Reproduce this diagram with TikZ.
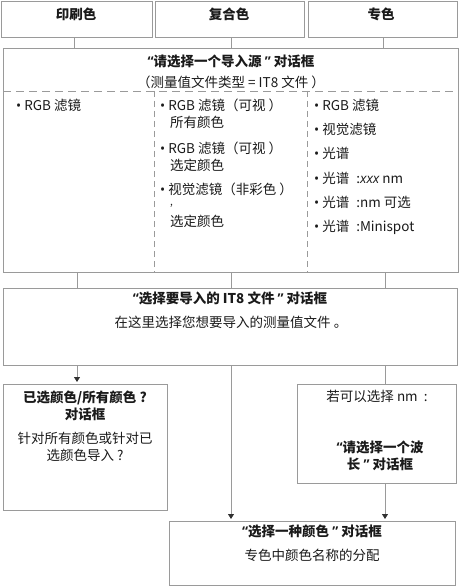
\documentclass[tikz,border=0pt]{standalone}
\usepackage{fontspec}
\setmainfont{Noto Sans CJK SC}
\newfontfamily\latinfont{Open Sans}
\newcommand{\bul}{{\latinfont •}\hspace{3pt}}
\newcommand{\oq}{{\latinfont “}}
\newcommand{\cq}{{\latinfont ”}}
\usetikzlibrary{arrows.meta}
\definecolor{linegray}{HTML}{9A9A9A}
\definecolor{txt}{HTML}{1A1A1A}
\begin{document}
\begin{tikzpicture}[x=1pt,y=-1pt,
  box/.style={draw=linegray, line width=0.8pt, anchor=north west, inner sep=0pt},
  conn/.style={draw=linegray, line width=0.8pt},
  arr/.style={conn, -{Triangle[length=5pt,width=6pt,color=txt!90]}, shorten >=2pt},
  dsh/.style={draw=linegray, line width=0.8pt, dash pattern=on 8pt off 5pt},
  vdsh/.style={draw=linegray, line width=0.6pt, dash pattern=on 6pt off 4pt},
  t/.style={text=txt, font=\fontsize{13.5}{17}\selectfont, inner sep=0pt},
  tb/.style={t, font=\fontsize{13.5}{17}\selectfont\bfseries},
  li/.style={t, anchor=west, align=left}]
\useasboundingbox (0,0) rectangle (461,588);

% top boxes
\node[box, minimum width=151, minimum height=36] (tp1) at (1,1) {};
\node[box, minimum width=149, minimum height=36] (tp2) at (155,1) {};
\node[box, minimum width=149, minimum height=36] (tp3) at (308,1) {};
\node[tb] (tp1t) at (76,14) {印刷色};
\node[tb] (tp2t) at (229,14) {复合色};
\node[tb] (tp3t) at (381,14) {专色};

% big box
\node[box, minimum width=455, minimum height=224] (src) at (3,48) {};
\node[tb] (srct) at (231,61) {\oq 请选择一个导入源 \cq{} 对话框};
\node[t] (srcs) at (231,82) {（测量值文件类型 = IT8 文件 ）};
\coordinate (dl) at (3,91);
\coordinate (dr) at (458,91);
\draw[dsh] (dl) -- (dr);
\coordinate (v1a) at (154,91); \coordinate (v1b) at (154,272);
\coordinate (v2a) at (307,91); \coordinate (v2b) at (307,272);
\draw[vdsh] (v1a) -- (v1b);
\draw[vdsh] (v2a) -- (v2b);

% column 1
\node[li] (c1a) at (16,105) {\bul RGB 滤镜};
% column 2
\node[li] (c2a) at (160,105) {\bul RGB 滤镜（可视 ）};
\node[li] (c2b) at (170,122) {所有颜色};
\node[li] (c2c) at (160,148) {\bul RGB 滤镜（可视 ）};
\node[li] (c2d) at (170,165) {选定颜色};
\node[li] (c2e) at (160,189) {\bul 视觉滤镜（非彩色 ）};
\node[li, font=\fontsize{10}{12}\selectfont] (c2f) at (170,206) {,};
\node[li] (c2g) at (170,221) {选定颜色};
% column 3
\node[li] (c3a) at (314,105) {\bul RGB 滤镜};
\node[li] (c3b) at (314,129) {\bul 视觉滤镜};
\node[li] (c3c) at (314,153) {\bul 光谱};
\node[li] (c3d) at (314,178) {\bul 光谱\hspace{7pt}:{\latinfont\itshape xxx} nm};
\node[li] (c3e) at (314,202) {\bul 光谱\hspace{7pt}:nm 可选};
\node[li] (c3f) at (314,227) {\bul 光谱\hspace{7pt}:Minispot};

% connectors top -> big
\draw[conn] (tp1.south -| 74,0) -- (src.north -| 74,0);
\draw[conn] (tp2.south -| 231,0) -- (src.north -| 231,0);
\draw[conn] (tp3.south -| 383,0) -- (src.north -| 383,0);

% IT8 box
\node[box, minimum width=454, minimum height=77] (it8) at (3,288) {};
\node[tb] (it8t) at (230,298) {\oq 选择要导入的 IT8 文件 \cq{} 对话框};
\node[t] (it8s) at (231,322) {在这里选择您想要导入的测量值文件 。};

\draw[conn] (src.south -| 77,0) -- (it8.north -| 77,0);
\draw[conn] (src.south -| 231,0) -- (it8.north -| 231,0);
\draw[conn] (src.south -| 385,0) -- (it8.north -| 385,0);

% selected colours box
\node[box, minimum width=164, minimum height=126] (sel) at (3,384) {};
\node[tb, align=center] (selt) at (85,406) {已选颜色/所有颜色 ?\\对话框};
\node[t, align=center] (sels) at (85,447) {针对所有颜色或针对已\\选颜色导入 ?};

% wavelength box
\node[box, minimum width=159, minimum height=99] (wl) at (297,384) {};
\node[t] (wlt) at (377,396) {若可以选择 nm \ :};
\node[tb, align=center] (wls) at (380,456) {\oq 请选择一个波\\长 \cq{} 对话框};

% colour box
\node[box, minimum width=286, minimum height=64] (col) at (169,521) {};
\node[tb] (colt) at (312,531) {\oq 选择一种颜色 \cq{} 对话框};
\node[t] (cols) at (312,555) {专色中颜色名称的分配};

% connectors from IT8 box
\draw[arr] (it8.south -| 77,0) -- (sel.north -| 77,0);
\draw[arr] (it8.south -| 231,0) -- (col.north -| 231,0);
\draw[conn] (it8.south -| 385,0) -- (wl.north -| 385,0);
\draw[arr] (wl.south -| 385,0) -- (col.north -| 385,0);
\end{tikzpicture}
\end{document}
